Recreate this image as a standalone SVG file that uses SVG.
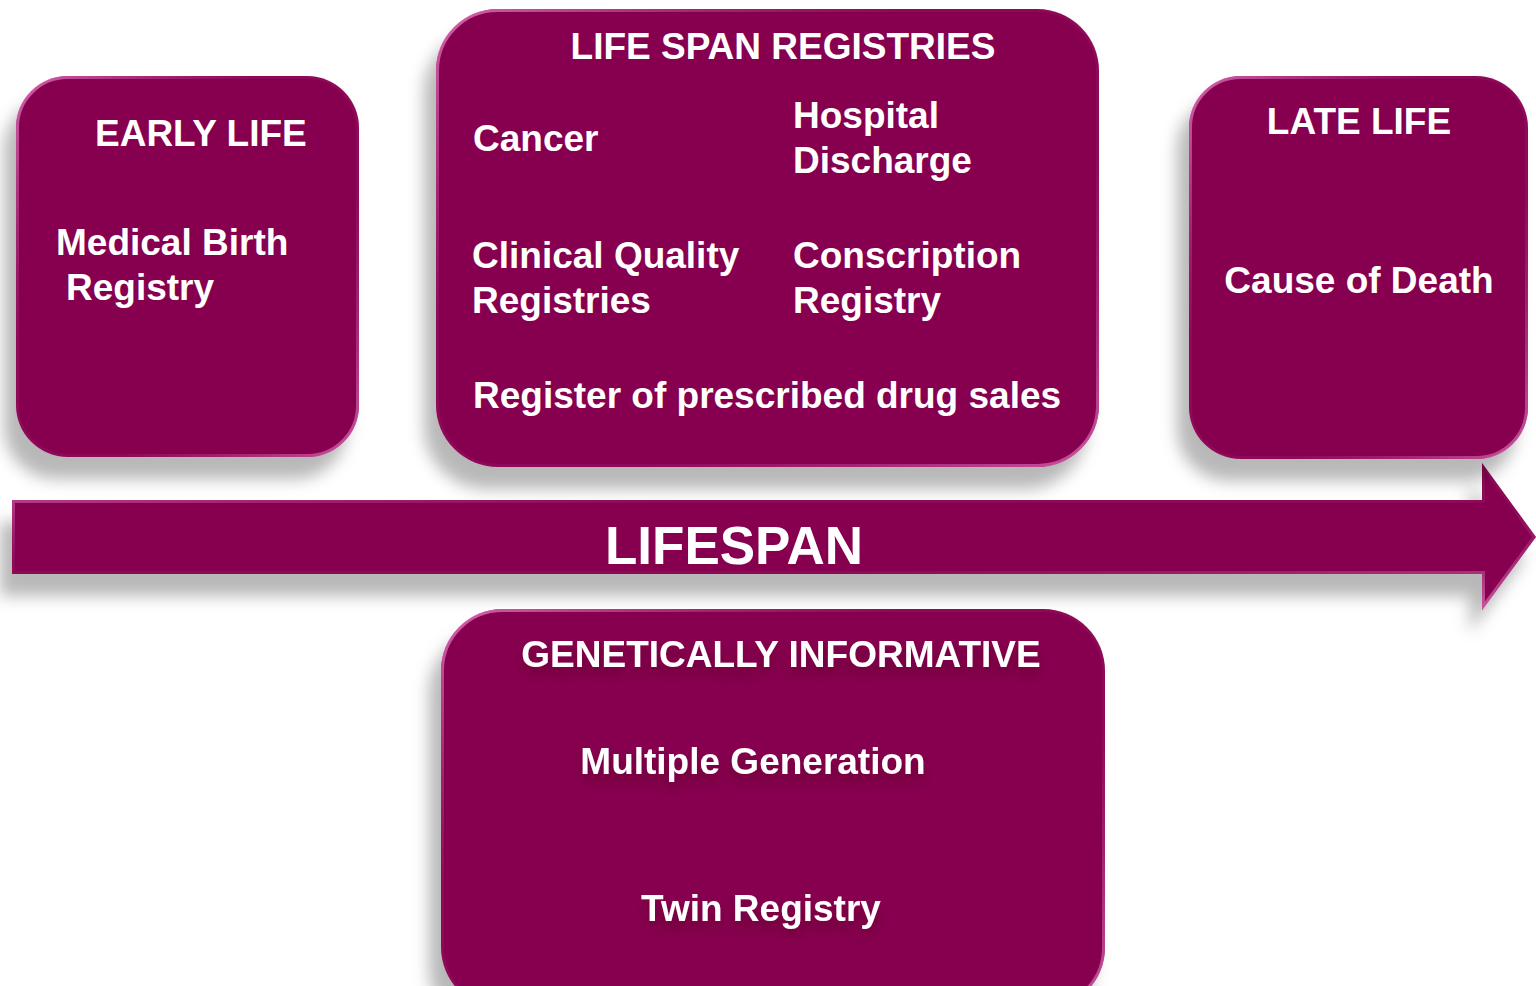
<svg xmlns="http://www.w3.org/2000/svg" width="1536" height="986" viewBox="0 0 1536 986">
  <defs>
    <filter id="shadow" x="-20%" y="-20%" width="140%" height="160%">
      <feDropShadow dx="-12" dy="22" stdDeviation="8" flood-color="#000" flood-opacity="0.28"/>
    </filter>
    <filter id="txtShadow" x="-10%" y="-50%" width="120%" height="250%">
      <feDropShadow dx="0" dy="8" stdDeviation="6" flood-color="#3a0020" flood-opacity="0.35"/>
    </filter>
    <linearGradient id="bevel" x1="0" y1="0" x2="1" y2="1">
      <stop offset="0" stop-color="#e070b8" stop-opacity="0.9"/>
      <stop offset="0.35" stop-color="#a8307a" stop-opacity="0.2"/>
      <stop offset="0.65" stop-color="#a8307a" stop-opacity="0.2"/>
      <stop offset="1" stop-color="#d060a8" stop-opacity="0.9"/>
    </linearGradient>
  </defs>
  <style>
    .box { fill: #870050; filter: url(#shadow); }
    .rim { fill: none; stroke: url(#bevel); stroke-width: 3; }
    text { font-family: "Liberation Sans", Arial, sans-serif; font-weight: bold; fill: #ffffff; }
    .t { font-size: 37px; }
    .big { font-size: 53px; }
    .soft { filter: url(#txtShadow); }
  </style>

  <rect width="1536" height="986" fill="#ffffff"/>

  <!-- timeline arrow -->
  <g id="connectors">
    <path class="box" d="M12,500 H1482 V463 L1536,537 L1482,610 V574 H12 Z"/>
    <path class="rim" d="M13.5,501.5 H1483.5 V467 L1534,537 L1483.5,606 V572.5 H13.5 Z"/>
    <text class="big" x="734" y="564" text-anchor="middle">LIFESPAN</text>
  </g>

  <g id="early-life">
    <rect class="box" x="16" y="76" width="343" height="381" rx="52"/>
    <rect class="rim" x="17.5" y="77.5" width="340" height="378" rx="50"/>
    <text class="t" x="95" y="146">EARLY LIFE</text>
    <text class="t" x="56" y="255">Medical Birth</text>
    <text class="t" x="66" y="300">Registry</text>
  </g>

  <g id="life-span-registries">
    <rect class="box" x="436" y="9" width="663" height="458" rx="62"/>
    <rect class="rim" x="437.5" y="10.5" width="660" height="455" rx="60"/>
    <text class="t" x="783" y="59" text-anchor="middle">LIFE SPAN REGISTRIES</text>
    <text class="t" x="473" y="151">Cancer</text>
    <text class="t" x="793" y="128">Hospital</text>
    <text class="t" x="793" y="173">Discharge</text>
    <text class="t" x="472" y="268">Clinical Quality</text>
    <text class="t" x="472" y="313">Registries</text>
    <text class="t" x="793" y="268">Conscription</text>
    <text class="t" x="793" y="313">Registry</text>
    <text class="t" x="473" y="408">Register of prescribed drug sales</text>
  </g>

  <g id="late-life">
    <rect class="box" x="1189" y="76" width="339" height="383" rx="52"/>
    <rect class="rim" x="1190.5" y="77.5" width="336" height="380" rx="50"/>
    <text class="t" x="1359" y="134" text-anchor="middle">LATE LIFE</text>
    <text class="t" x="1359" y="293" text-anchor="middle">Cause of Death</text>
  </g>

  <g id="genetically-informative">
    <rect class="box" x="441" y="609" width="664" height="400" rx="62"/>
    <rect class="rim" x="442.5" y="610.5" width="661" height="397" rx="60"/>
    <text class="t soft" x="781" y="667" text-anchor="middle">GENETICALLY INFORMATIVE</text>
    <text class="t soft" x="753" y="774" text-anchor="middle">Multiple Generation</text>
    <text class="t soft" x="761" y="921" text-anchor="middle">Twin Registry</text>
  </g>
</svg>
